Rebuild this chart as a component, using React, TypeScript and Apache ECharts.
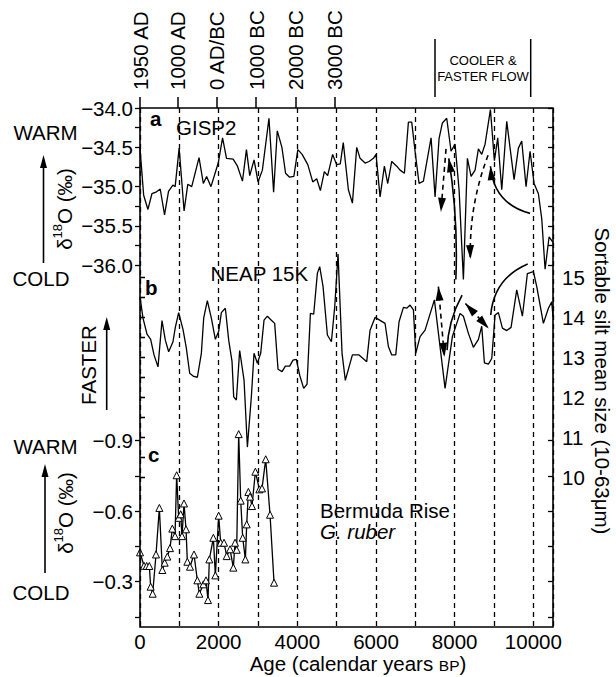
import React, { useEffect, useRef } from 'react';
import * as echarts from 'echarts';

// ---------------- data ----------------
const gispYears = [0, 93, 202, 303, 405, 514, 624, 725, 835, 894, 995, 1121, 1214, 1315, 1501, 1610, 1694, 1804, 1989, 2099, 2200, 2369, 2478, 2605, 2706, 2790, 2900, 3001, 3111, 3279, 3397, 3490, 3608, 3701, 3802, 3912, 4013, 4122, 4266, 4392, 4493, 4586, 4687, 4771, 4898, 4999, 5092, 5168, 5298, 5400, 5510, 5595, 5722, 5824, 5934, 6001, 6103, 6213, 6298, 6400, 6527, 6612, 6722, 6824, 6908, 6993, 7095, 7205, 7400, 7502, 7603, 7688, 7798, 7908, 8010, 8112, 8222, 8324, 8417, 8519, 8603, 8688, 8773, 8909, 9010, 9095, 9197, 9324, 9409, 9511, 9620, 9705, 9815, 9917, 10019, 10129, 10214, 10299, 10400, 10500];
const gispValues = [-34.51, -35.11, -35.29, -35.09, -35.07, -35.03, -35.36, -35.06, -34.98, -35.0, -34.51, -35.31, -34.97, -35.0, -34.63, -34.96, -34.87, -35.0, -34.7, -34.38, -34.64, -34.65, -34.74, -34.93, -34.53, -34.86, -34.66, -34.94, -34.79, -34.13, -35.07, -34.29, -34.5, -34.83, -34.88, -34.87, -34.53, -34.59, -34.72, -34.94, -34.9, -35.05, -34.81, -34.86, -34.59, -34.72, -34.71, -34.44, -35.04, -35.21, -34.5, -34.64, -34.7, -34.68, -34.64, -34.59, -35.13, -34.74, -34.96, -34.68, -34.74, -34.79, -34.83, -34.18, -34.18, -34.55, -34.96, -34.93, -34.38, -35.13, -34.39, -34.19, -34.13, -34.55, -34.46, -35.04, -36.18, -34.64, -34.87, -34.79, -34.52, -34.59, -34.46, -34.02, -34.67, -34.38, -35.04, -34.17, -34.51, -34.91, -34.51, -34.42, -35.0, -34.55, -34.96, -35.09, -35.41, -36.05, -35.64, -35.71];

const neapYears = [0, 76, 178, 271, 356, 458, 559, 644, 729, 839, 898, 983, 1093, 1178, 1263, 1365, 1458, 1560, 1619, 1712, 1814, 1916, 2001, 2068, 2170, 2255, 2340, 2382, 2450, 2534, 2645, 2730, 2831, 2899, 2984, 3068, 3153, 3238, 3340, 3424, 3509, 3611, 3696, 3806, 3890, 3975, 4060, 4162, 4247, 4332, 4416, 4510, 4569, 4654, 4764, 4866, 4951, 5035, 5137, 5220, 5400, 5569, 5764, 5849, 5976, 6230, 6315, 6400, 6502, 6586, 6697, 6781, 6866, 6951, 7010, 7120, 7248, 7485, 7756, 7942, 8137, 8222, 8349, 8476, 8604, 8688, 8756, 8858, 8943, 9027, 9112, 9214, 9324, 9434, 9578, 9722, 9849, 10002, 10087, 10256, 10383, 10468, 10500];
const neapValues = [14.52, 13.98, 13.58, 13.45, 13.06, 12.76, 13.92, 13.43, 13.14, 13.39, 13.75, 14.12, 13.7, 13.23, 12.6, 12.52, 12.5, 13.1, 13.98, 14.42, 13.98, 13.45, 13.65, 14.12, 14.23, 13.43, 12.89, 12.01, 11.93, 13.17, 12.43, 10.75, 12.01, 13.1, 12.85, 13.1, 13.93, 14.03, 13.93, 13.85, 12.7, 12.64, 12.78, 12.78, 12.93, 12.95, 12.55, 12.22, 12.33, 14.1, 14.08, 15.11, 15.27, 14.77, 13.56, 13.39, 14.27, 15.59, 13.1, 12.42, 13.06, 13.06, 12.89, 13.68, 14.0, 13.85, 13.27, 13.06, 13.06, 13.89, 14.25, 14.23, 14.31, 14.19, 13.1, 13.52, 13.68, 14.44, 12.22, 13.52, 14.1, 14.03, 13.6, 13.25, 13.45, 13.78, 12.86, 12.83, 12.97, 14.06, 14.12, 13.73, 13.67, 13.75, 14.69, 14.03, 15.1, 15.15, 14.77, 13.85, 14.23, 14.39, 14.02];

const bermudaYears = [0, 102, 170, 237, 271, 322, 407, 492, 568, 627, 695, 763, 822, 890, 932, 983, 1034, 1068, 1119, 1170, 1204, 1271, 1373, 1458, 1509, 1611, 1678, 1729, 1763, 1865, 1916, 2000, 2051, 2136, 2204, 2289, 2373, 2416, 2458, 2509, 2560, 2611, 2679, 2713, 2755, 2797, 2848, 2933, 3035, 3102, 3196, 3306, 3408];
const bermudaValues = [-0.425, -0.368, -0.367, -0.367, -0.279, -0.249, -0.416, -0.614, -0.35, -0.381, -0.407, -0.443, -0.526, -0.494, -0.753, -0.572, -0.587, -0.494, -0.633, -0.523, -0.385, -0.364, -0.416, -0.306, -0.249, -0.289, -0.306, -0.222, -0.395, -0.487, -0.327, -0.581, -0.466, -0.466, -0.409, -0.438, -0.36, -0.466, -0.436, -0.928, -0.645, -0.487, -0.395, -0.544, -0.682, -0.662, -0.622, -0.768, -0.693, -0.697, -0.821, -0.585, -0.296];

const calendarTickYears = [0, 950, 1950, 2950, 3950, 4950];
const calendarTickLabels = ['1950 AD', '1000 AD', '0 AD/BC', '1000 BC', '2000 BC', '3000 BC'];

// annotation arrows, in data coordinates: [x1, y1, x2, y2, dashed(1/0), curveness, startArrow(1/0), endArrow(1/0)]
const gispArrows = [
  [7780, -34.52, 7650, -35.32, 1, 0, 0, 1],
  [8030, -36.18, 7850, -34.64, 0, -0.05, 0, 1],
  [8850, -34.6, 8400, -35.92, 1, -0.1, 0, 1],
  [9917, -35.34, 8910, -34.74, 0, 0.35, 0, 1],
];
const neapArrows = [
  [7586, 14.77, 7739, 13.01, 1, 0, 1, 1],
  [7807, 13.18, 8188, 14.56, 0, 0.12, 0, 0],
  [8273, 14.35, 8866, 13.72, 1, 0, 1, 1],
  [8917, 14.06, 9857, 15.34, 0, 0.3, 0, 0],
];

// ---------------- helpers ----------------
const FONT = '"Liberation Sans", Arial, Helvetica, sans-serif';
const FS = 20.5;
const L = 140;
const W = 413;

const isMult = (v: number, step: number) => Math.abs(v / step - Math.round(v / step)) < 1e-6;
const fmt = (v: number, d: number) => (v < 0 ? '\u2212' : '') + Math.abs(v).toFixed(d);

const arrowHead = (tip: number[], from: number[]) => {
  let dx = tip[0] - from[0];
  let dy = tip[1] - from[1];
  const len = Math.sqrt(dx * dx + dy * dy) || 1;
  dx /= len;
  dy /= len;
  const hl = 14;
  const hw = 4;
  const bx = tip[0] - dx * hl;
  const by = tip[1] - dy * hl;
  return {
    type: 'polygon',
    shape: { points: [[tip[0], tip[1]], [bx - dy * hw, by + dx * hw], [bx + dy * hw, by - dx * hw]] },
    style: { fill: '#000', stroke: 'none' },
  };
};

const annotationSeries = (arrows: number[][], xi: number, yi: number) => ({
  type: 'custom',
  xAxisIndex: xi,
  yAxisIndex: yi,
  clip: false,
  silent: true,
  z: 4,
  data: arrows.map((a) => [a[0], a[1], a[2], a[3]]),
  encode: { x: [0, 2], y: [1, 3] },
  renderItem: (params: any, api: any) => {
    const a = arrows[params.dataIndex];
    const p1 = api.coord([a[0], a[1]]);
    const p2 = api.coord([a[2], a[3]]);
    const c = a[5];
    const cp = [
      (p1[0] + p2[0]) / 2 - (p1[1] - p2[1]) * c,
      (p1[1] + p2[1]) / 2 - (p2[0] - p1[0]) * c,
    ];
    const children: any[] = [
      {
        type: 'bezierCurve',
        shape: { x1: p1[0], y1: p1[1], x2: p2[0], y2: p2[1], cpx1: cp[0], cpy1: cp[1] },
        style: { stroke: '#000', lineWidth: 1.6, fill: 'none', lineDash: a[4] ? [5, 4] : null },
      },
    ];
    if (a[6]) children.push(arrowHead(p1, c ? cp : p2));
    if (a[7]) children.push(arrowHead(p2, c ? cp : p1));
    return { type: 'group', children };
  },
});

const txt = (x: number, y: number, text: string, extra: any = {}, rotation = 0) => ({
  type: 'text',
  x,
  y,
  rotation,
  silent: true,
  style: {
    text,
    fill: '#000',
    fontSize: FS,
    fontFamily: FONT,
    align: 'center',
    verticalAlign: 'middle',
    ...extra,
  },
});

const upArrow = (x: number, yTop: number, yBottom: number) => [
  { type: 'line', silent: true, shape: { x1: x, y1: yTop + 10, x2: x, y2: yBottom }, style: { stroke: '#000', lineWidth: 1.6 } },
  { type: 'polygon', silent: true, shape: { points: [[x, yTop], [x - 3.5, yTop + 13], [x + 3.5, yTop + 13]] }, style: { fill: '#000' } },
];

const deltaLabel = (x: number, y: number) => ({
  type: 'text',
  x,
  y,
  rotation: Math.PI / 2,
  silent: true,
  style: {
    text: '{a|\u03b4}{s|18}{a|O (\u2030)}',
    fill: '#000',
    align: 'center',
    verticalAlign: 'middle',
    rich: {
      a: { fontSize: FS, fontFamily: FONT, fill: '#000', verticalAlign: 'bottom', lineHeight: 24 },
      s: { fontSize: 13, fontFamily: FONT, fill: '#000', verticalAlign: 'top', lineHeight: 24 },
    },
  },
});

export default function App() {
  const ref = useRef<HTMLDivElement>(null);

  useEffect(() => {
    document.body.style.margin = '0';
    if (!ref.current) return;
    const chart = echarts.init(ref.current, undefined, { renderer: 'svg' });

    const option: any = {
      animation: false,
      backgroundColor: '#fff',
      textStyle: { fontFamily: FONT },
      grid: [
        { left: L, top: 108, width: W, height: 519, show: true, borderColor: '#000', borderWidth: 1.6, backgroundColor: 'transparent', z: 5 },
        { left: L, top: 108, width: W, height: 157.3 },
        { left: L, top: 277.5, width: W, height: 199.5 },
        { left: L, top: 440.7, width: W, height: 176.3 },
      ],
      xAxis: [
        {
          gridIndex: 0, type: 'value', min: 0, max: 10500, interval: 1000, position: 'bottom',
          axisLine: { show: false },
          axisTick: { show: false },
          axisLabel: {
            color: '#000', fontSize: FS, fontFamily: FONT, margin: 4, lineHeight: 20,
            formatter: (v: number) => (isMult(v, 2000) ? String(v) : ''),
          },
          splitLine: { show: true, lineStyle: { color: '#000', width: 1.3, type: [5, 4] } },
        },
        {
          gridIndex: 1, type: 'value', min: 0, max: 10500, position: 'top',
          axisLine: { show: false },
          axisTick: { show: true, length: 11, inside: false, customValues: calendarTickYears, lineStyle: { color: '#000', width: 1.5 } },
          axisLabel: {
            show: true, customValues: calendarTickYears, rotate: -90, margin: 18, color: '#000', fontSize: FS, fontFamily: FONT,
            formatter: (v: number) => {
              const i = calendarTickYears.indexOf(Math.round(v));
              return i >= 0 ? calendarTickLabels[i] : '';
            },
          },
          splitLine: { show: false },
        },
        { gridIndex: 2, type: 'value', min: 0, max: 10500, show: false },
        { gridIndex: 3, type: 'value', min: 0, max: 10500, show: false },
      ],
      yAxis: [
        { gridIndex: 0, type: 'value', min: 0, max: 1, show: false },
        {
          gridIndex: 1, type: 'value', position: 'left', min: -36, max: -34, interval: 0.25,
          axisLine: { show: false },
          axisTick: { show: true, length: 5, lineStyle: { color: '#000', width: 1.3 } },
          axisLabel: { color: '#000', fontSize: FS, fontFamily: FONT, margin: 7, formatter: (v: number) => (isMult(v, 0.5) ? fmt(v, 1) : '') },
          splitLine: { show: false },
        },
        {
          gridIndex: 1, type: 'value', position: 'right', min: -36, max: -34, interval: 0.25,
          axisLine: { show: false },
          axisTick: { show: true, inside: true, length: 5, lineStyle: { color: '#000', width: 1.3 } },
          axisLabel: { show: false },
          splitLine: { show: false },
        },
        {
          gridIndex: 2, type: 'value', position: 'right', min: 10, max: 15, interval: 0.5,
          axisLine: { show: false },
          axisTick: { show: true, length: 5, lineStyle: { color: '#000', width: 1.3 } },
          axisLabel: { color: '#000', fontSize: FS, fontFamily: FONT, margin: 9, formatter: (v: number) => (isMult(v, 1) ? String(Math.round(v)) : '') },
          splitLine: { show: false },
        },
        {
          gridIndex: 2, type: 'value', position: 'left', min: 10, max: 15, interval: 0.5,
          axisLine: { show: false },
          axisTick: { show: true, inside: true, length: 5, lineStyle: { color: '#000', width: 1.3 } },
          axisLabel: { show: false },
          splitLine: { show: false },
        },
        {
          gridIndex: 3, type: 'value', position: 'left', inverse: true, min: -0.9, max: -0.15, interval: 0.15,
          axisLine: { show: false },
          axisTick: { show: true, length: 5, lineStyle: { color: '#000', width: 1.3 } },
          axisLabel: { color: '#000', fontSize: FS, fontFamily: FONT, margin: 7, formatter: (v: number) => (isMult(v, 0.3) ? fmt(v, 1) : '') },
          splitLine: { show: false },
        },
        {
          gridIndex: 3, type: 'value', position: 'right', inverse: true, min: -0.9, max: -0.15, interval: 0.15,
          axisLine: { show: false },
          axisTick: { show: true, inside: true, length: 5, lineStyle: { color: '#000', width: 1.3 } },
          axisLabel: { show: false },
          splitLine: { show: false },
        },
      ],
      series: [
        {
          type: 'line', name: 'GISP2', xAxisIndex: 1, yAxisIndex: 1, clip: false, symbol: 'none', showSymbol: false,
          lineStyle: { color: '#000', width: 1.3 },
          data: gispYears.map((x, i) => [x, gispValues[i]]),
          z: 3,
        },
        {
          type: 'line', name: 'NEAP 15K', xAxisIndex: 2, yAxisIndex: 3, clip: false, symbol: 'none', showSymbol: false,
          lineStyle: { color: '#000', width: 1.3 },
          data: neapYears.map((x, i) => [x, neapValues[i]]),
          z: 3,
        },
        {
          type: 'line', name: 'Bermuda Rise', xAxisIndex: 3, yAxisIndex: 5, clip: false,
          symbol: 'triangle', symbolSize: 7, showSymbol: true,
          lineStyle: { color: '#000', width: 1.3 },
          itemStyle: { color: '#fff', borderColor: '#000', borderWidth: 1 },
          data: bermudaYears.map((x, i) => [x, bermudaValues[i]]),
          z: 3,
        },
        annotationSeries(gispArrows, 1, 1),
        annotationSeries(neapArrows, 2, 3),
      ],
      graphic: [
        // cooler & faster flow bracket
        { type: 'line', silent: true, shape: { x1: 435, y1: 39, x2: 435, y2: 97 }, style: { stroke: '#000', lineWidth: 1.5 } },
        { type: 'line', silent: true, shape: { x1: 530.7, y1: 39, x2: 530.7, y2: 97 }, style: { stroke: '#000', lineWidth: 1.5 } },
        txt(483, 68.5, 'COOLER &\nFASTER FLOW', { fontSize: 13, lineHeight: 16 }),
        // left labels, panel a
        txt(45.5, 132, 'WARM'),
        txt(41, 278, 'COLD'),
        ...upArrow(43.5, 155, 263),
        deltaLabel(63, 209),
        // panel b
        txt(88, 365, 'FASTER', {}, Math.PI / 2),
        ...upArrow(106.7, 317, 410),
        // panel c
        txt(45.5, 446, 'WARM'),
        txt(41, 592, 'COLD'),
        ...upArrow(45, 464, 573),
        deltaLabel(64, 513),
        // panel letters
        txt(150, 118, 'a', { align: 'left', fontWeight: 'bold' }),
        txt(145, 287, 'b', { align: 'left', fontWeight: 'bold' }),
        txt(148, 454, 'c', { align: 'left', fontWeight: 'bold' }),
        // series names
        txt(176, 127, 'GISP2', { align: 'left' }),
        txt(210.5, 273.5, 'NEAP 15K', { align: 'left' }),
        txt(320, 510, 'Bermuda Rise', { align: 'left', lineHeight: 20 }),
        txt(320, 531, 'G. ruber', { align: 'left', fontStyle: 'italic', lineHeight: 20 }),
        // right axis name
        txt(602, 381, 'Sortable silt mean size (10-63\u03bcm)', {}, -Math.PI / 2),
        // bottom axis name
        {
          type: 'text', x: 358, y: 663, silent: true,
          style: {
            text: '{a|Age (calendar years }{b|BP}{a|)}',
            align: 'center', verticalAlign: 'middle', fill: '#000',
            rich: {
              a: { fontSize: FS, fontFamily: FONT, fill: '#000', lineHeight: 22, verticalAlign: 'bottom' },
              b: { fontSize: 15.5, fontFamily: FONT, fill: '#000', lineHeight: 17, verticalAlign: 'bottom', padding: [0, 0, 1, 0] },
            },
          },
        },
      ],
    };

    chart.setOption(option);
    return () => chart.dispose();
  }, []);

  return <div ref={ref} style={{ width: 616, height: 677 }} />;
}
